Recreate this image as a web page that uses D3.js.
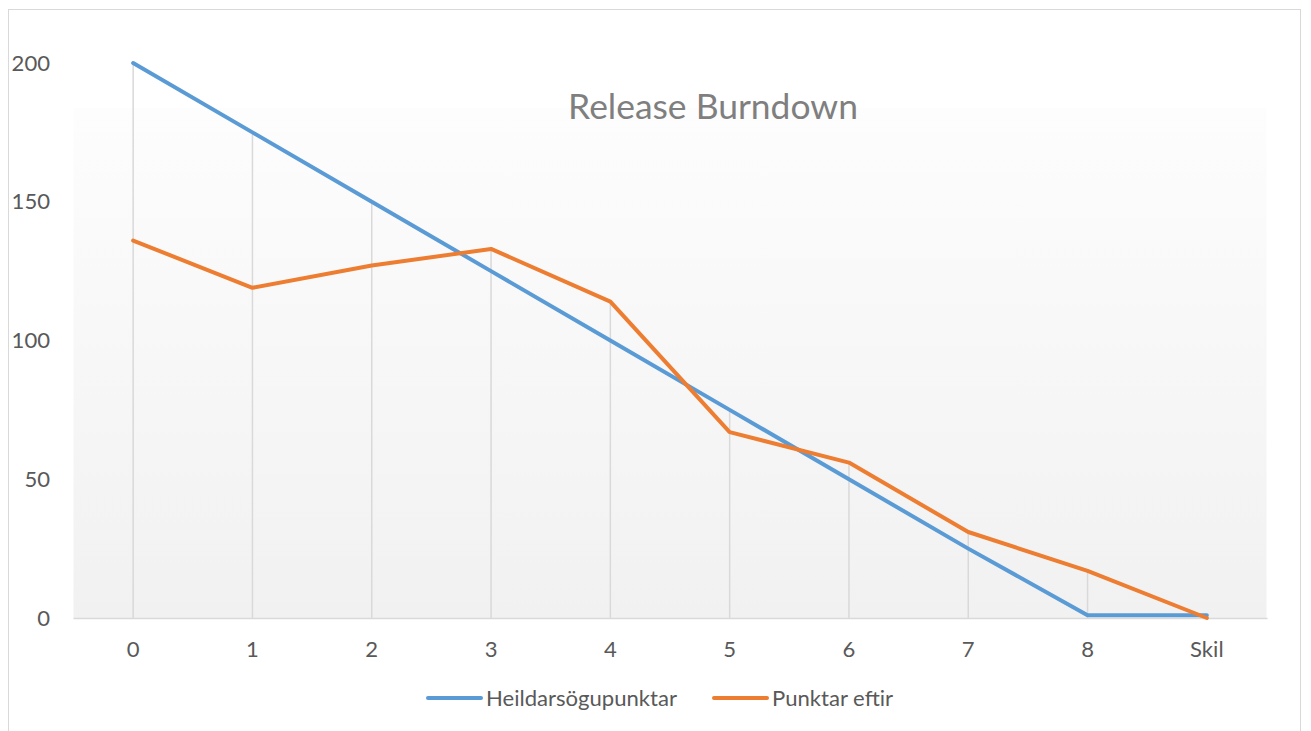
<!DOCTYPE html>
<html><head><meta charset="utf-8">
<script src="https://cdn.jsdelivr.net/npm/d3@7"></script>
<style>body{margin:0;background:#fff}svg{display:block}text{font-family:Lato,"Open Sans",sans-serif}</style>
</head><body><svg id="c" width="1311" height="731"></svg>
<script>
const categories = ["0","1","2","3","4","5","6","7","8","Skil"];
const idealValues = [200,175,150,125,100,75,50,25,1,1];
const remainingValues = [136,119,127,133,114,67,56,31,17,0];
const yTicks = [0,50,100,150,200];
const seriesNames = ["Heildarsögupunktar","Punktar eftir"];
const seriesColors = ["#5B9BD5","#ED7D31"];

const svg = d3.select("#c");
const L = 73.5, R = 1266.5, T = 63, B = 618;
const x = d3.scaleBand().domain(categories).range([L,R]);
const y = d3.scaleLinear().domain([0,200]).range([B,T]);
const cx = c => x(c) + x.bandwidth()/2;

// measure font size so text widths match the reference
function fitSize(str, target, base){
  const t = svg.append("text").attr("font-size",base).text(str);
  const w = t.node().getComputedTextLength(); t.remove();
  return base*target/w;
}
const labelSize = fitSize("Heildarsögupunktar",191,20);
const titleSize = fitSize("Release Burndown",290,30);

svg.append("rect").attr("x",8.5).attr("y",9.5).attr("width",1292).attr("height",740)
  .attr("fill","#fff").attr("stroke","#d9d9d9").attr("stroke-width",1);

const defs = svg.append("defs");
const g = defs.append("linearGradient").attr("id","bg").attr("x1",0).attr("y1",0).attr("x2",0).attr("y2",1);
g.append("stop").attr("offset","0%").attr("stop-color","#fdfdfd");
g.append("stop").attr("offset","100%").attr("stop-color","#f1f1f1");
svg.append("rect").attr("x",L).attr("y",108).attr("width",R-L).attr("height",B-108).attr("fill","url(#bg)");

const maxVals = categories.map((c,i)=>Math.max(idealValues[i],remainingValues[i]));
svg.append("g").selectAll("line").data(categories).join("line")
  .attr("x1",cx).attr("x2",cx)
  .attr("y1",(c,i)=>y(maxVals[i])).attr("y2",B)
  .attr("stroke","#d9d9d9").attr("stroke-width",1.5);

svg.append("line").attr("x1",L).attr("x2",R+1).attr("y1",B+0.5).attr("y2",B+0.5)
  .attr("stroke","#d9d9d9").attr("stroke-width",1.5);

svg.append("g").selectAll("text").data(yTicks).join("text")
  .attr("x",50).attr("y",d=>y(d)).attr("dy","0.35em").attr("text-anchor","end")
  .attr("font-size",labelSize).attr("fill","#595959").text(d=>d);

svg.append("g").selectAll("text").data(categories).join("text")
  .attr("x",cx).attr("y",649).attr("dy","0.35em").attr("text-anchor","middle")
  .attr("font-size",labelSize).attr("fill","#595959").text(d=>d);

const line = d3.line().x((d,i)=>cx(categories[i])).y(d=>y(d));
[idealValues,remainingValues].forEach((vals,k)=>{
  svg.append("path").datum(vals).attr("d",line).attr("fill","none")
    .attr("stroke",seriesColors[k]).attr("stroke-width",4)
    .attr("stroke-linejoin","round").attr("stroke-linecap","round");
});

svg.append("text").attr("x",713).attr("y",107).attr("dy","0.35em").attr("text-anchor","middle")
  .attr("font-size",titleSize).attr("fill","#7f7f7f").text("Release Burndown");

const legX = [428,714];
seriesNames.forEach((n,k)=>{
  svg.append("line").attr("x1",legX[k]).attr("x2",legX[k]+53).attr("y1",698).attr("y2",698)
    .attr("stroke",seriesColors[k]).attr("stroke-width",4).attr("stroke-linecap","round");
  svg.append("text").attr("x",legX[k]+58).attr("y",698).attr("dy","0.35em")
    .attr("font-size",labelSize).attr("fill","#595959").text(n);
});
</script></body></html>
